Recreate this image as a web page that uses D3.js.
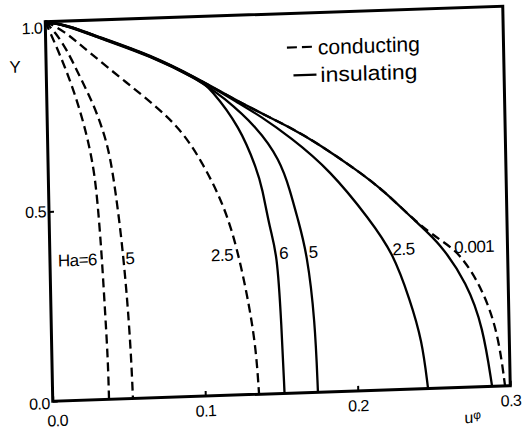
<!DOCTYPE html>
<html>
<head>
<meta charset="utf-8">
<script src="https://cdn.jsdelivr.net/npm/d3@7"></script>
<style>
  html, body { margin: 0; padding: 0; background: #fff; }
  svg { display: block; }
  text { font-family: "Liberation Sans", Arial, sans-serif; fill: #000; }
</style>
</head>
<body>
<script>
// Velocity profiles y(u) for several Hartmann numbers, conducting vs insulating walls
const xTicks = [0.0, 0.1, 0.2, 0.3];
const yTicks = [0.0, 0.5, 1.0];

// conducting walls (dashed)
const condHa6 = [[0,1],[0.008,0.9245],[0.0155,0.844],[0.0216,0.7645],[0.0265,0.685],[0.0306,0.592],[0.0327,0.473],[0.0341,0.368],[0.0354,0.236],[0.0367,0.104],[0.0369,0]];
const condHa5 = [[0,1],[0.0063,0.972],[0.0139,0.924],[0.0221,0.851],[0.0302,0.782],[0.0364,0.710],[0.0407,0.643],[0.0441,0.538],[0.0469,0.432],[0.049,0.326],[0.0505,0.234],[0.0519,0.115],[0.0526,0]];
const condHa25 = [[0,1],[0.0115,0.977],[0.0289,0.914],[0.0502,0.840],[0.0721,0.766],[0.0889,0.697],[0.1015,0.612],[0.1122,0.523],[0.1197,0.435],[0.1257,0.329],[0.1304,0.223],[0.1339,0.117],[0.1353,0]];
const condHa0001 = [[0,1],[0.0142,0.9895],[0.0357,0.953],[0.0682,0.903],[0.1007,0.833],[0.1266,0.769],[0.159,0.701],[0.1785,0.651],[0.2011,0.585],[0.2192,0.527],[0.241,0.437],[0.2559,0.390],[0.2688,0.354],[0.2834,0.255],[0.2927,0.140],[0.2966,0]];

// insulating walls (solid)
const insHa6 = [[0,1],[0.0142,0.988],[0.0357,0.951],[0.0682,0.901],[0.1007,0.831],[0.1071,0.811],[0.1263,0.7055],[0.1368,0.591],[0.1399,0.5455],[0.1446,0.432],[0.1489,0.370],[0.1508,0.19],[0.152,0]];
const insHa5 = [[0,1],[0.0142,0.989],[0.0357,0.952],[0.0682,0.902],[0.1007,0.832],[0.1155,0.786],[0.1374,0.704],[0.152,0.615],[0.1582,0.535],[0.1631,0.455],[0.1685,0.368],[0.1729,0.191],[0.1739,0]];
const insHa25 = [[0,1],[0.0142,0.9895],[0.0357,0.953],[0.0682,0.903],[0.1007,0.833],[0.1266,0.766],[0.1395,0.733],[0.1589,0.675],[0.1847,0.584],[0.2103,0.449],[0.2249,0.36],[0.2354,0.235],[0.2428,0.128],[0.2461,0]];
const insHa0001 = [[0,1],[0.0142,0.990],[0.0357,0.954],[0.0682,0.904],[0.1007,0.834],[0.1266,0.769],[0.159,0.701],[0.1785,0.651],[0.2011,0.585],[0.2192,0.527],[0.241,0.437],[0.2558,0.382],[0.273,0.274],[0.2829,0.157],[0.2881,0]];

const curveLabels = ["Ha=6", "5", "2.5", "6", "5", "2.5", "0.001"];
const legendLabels = ["conducting", "insulating"];

const series = [
  { pts: condHa6,    dashed: true,  label: curveLabels[0], side: "left"  },
  { pts: condHa5,    dashed: true,  label: curveLabels[1], side: "right" },
  { pts: condHa25,   dashed: true,  label: curveLabels[2], side: "left"  },
  { pts: condHa0001, dashed: true,  label: null },
  { pts: insHa6,     dashed: false, label: curveLabels[3], side: "right" },
  { pts: insHa5,     dashed: false, label: curveLabels[4], side: "right" },
  { pts: insHa25,    dashed: false, label: curveLabels[5], side: "right" },
  { pts: insHa0001,  dashed: false, label: null }
];

const Wd = 523, Ht = 429;
const W = 457.5, H = 379.5;

const svg = d3.select("body").append("svg").attr("width", Wd).attr("height", Ht);
svg.append("rect").attr("width", Wd).attr("height", Ht).attr("fill", "#fff");

// the sheet sits slightly skewed on the page
const g = svg.append("g").attr("transform", "matrix(1,-0.03388,0.01976,1,45.25,21.75)");

const x = d3.scaleLinear().domain([0, 0.3]).range([0, W]);
const y = d3.scaleLinear().domain([0, 1]).range([H, 0]);

// axes with inward ticks
const xAxisG = g.append("g").attr("transform", `translate(0,${H})`)
  .call(d3.axisBottom(x).tickValues(xTicks).tickFormat(d3.format(".1f")).tickSize(-5).tickPadding(9));
const yAxisG = g.append("g")
  .call(d3.axisLeft(y).tickValues(yTicks).tickFormat(d3.format(".1f")).tickSize(-5).tickPadding(3));
[xAxisG, yAxisG].forEach(a => {
  a.select(".domain").remove();
  a.selectAll(".tick line").attr("stroke", "#000").attr("stroke-width", 2);
  a.selectAll(".tick text").attr("font-size", 16).attr("letter-spacing", -0.5).attr("font-family", null);
});
xAxisG.selectAll(".tick text").filter(d => d === 0).attr("dx", 4).attr("dy", "1.0em");
yAxisG.selectAll(".tick text").filter(d => d === 1).attr("dy", "0.7em");
yAxisG.selectAll(".tick text").filter(d => d === 0).attr("dy", "0.45em");

// frame
g.append("rect").attr("x", 0).attr("y", 0).attr("width", W).attr("height", H)
  .attr("fill", "none").attr("stroke", "#000").attr("stroke-width", 3);

// axis titles
g.append("text").attr("x", -31).attr("y", 50).attr("text-anchor", "middle")
  .attr("font-size", 17).text("Y");
const ut = g.append("text").attr("x", x(0.275)).attr("y", H + 36).attr("text-anchor", "middle")
  .attr("font-size", 16);
ut.append("tspan").text("u");
ut.append("tspan").attr("font-size", 12).attr("dy", -4).text("φ");

// curves, smoothed through the read points
const line = d3.line().x(d => x(d[0])).y(d => y(d[1])).curve(d3.curveBasis);
g.selectAll("path.curve").data(series).join("path")
  .attr("class", "curve")
  .attr("d", d => line(d.pts))
  .attr("fill", "none")
  .attr("stroke", "#000")
  .attr("stroke-width", 2.3)
  .attr("stroke-dasharray", d => d.dashed ? "9,5" : null);

// curve labels placed where each curve crosses the label level
const labelLevel = 0.37;
function crossX(pts, yv) {
  for (let i = 1; i < pts.length; i++) {
    const [x0, y0] = pts[i - 1], [x1, y1] = pts[i];
    if ((y0 - yv) * (y1 - yv) <= 0) return x0 + (x1 - x0) * (yv - y0) / (y1 - y0);
  }
  return pts[pts.length - 1][0];
}
series.filter(s => s.label).forEach(s => {
  const cx = x(crossX(s.pts, labelLevel));
  g.append("text")
    .attr("x", s.side === "left" ? cx - 5 : cx + 2)
    .attr("y", y(labelLevel) + 6)
    .attr("text-anchor", s.side === "left" ? "end" : "start")
    .attr("font-size", 17).attr("letter-spacing", -0.5)
    .text(s.label);
});
// label for the weakest field, right of the dashed branch
g.append("text")
  .attr("x", x(crossX(condHa0001, labelLevel)) + 3)
  .attr("y", y(labelLevel) + 6)
  .attr("font-size", 17).attr("letter-spacing", -0.5)
  .text(curveLabels[6]);

// legend
const lg = g.append("g");
lg.append("line").attr("x1", 241).attr("x2", 270).attr("y1", 34).attr("y2", 34)
  .attr("stroke", "#000").attr("stroke-width", 2.2).attr("stroke-dasharray", "10,5");
lg.append("text").attr("x", 272).attr("y", 42).attr("font-size", 21)
  .attr("textLength", 102).attr("lengthAdjust", "spacingAndGlyphs").text(legendLabels[0]);
lg.append("line").attr("x1", 247).attr("x2", 270).attr("y1", 62).attr("y2", 62)
  .attr("stroke", "#000").attr("stroke-width", 2.2);
lg.append("text").attr("x", 274).attr("y", 69.5).attr("font-size", 21)
  .attr("textLength", 97).attr("lengthAdjust", "spacingAndGlyphs").text(legendLabels[1]);
</script>
</body>
</html>
